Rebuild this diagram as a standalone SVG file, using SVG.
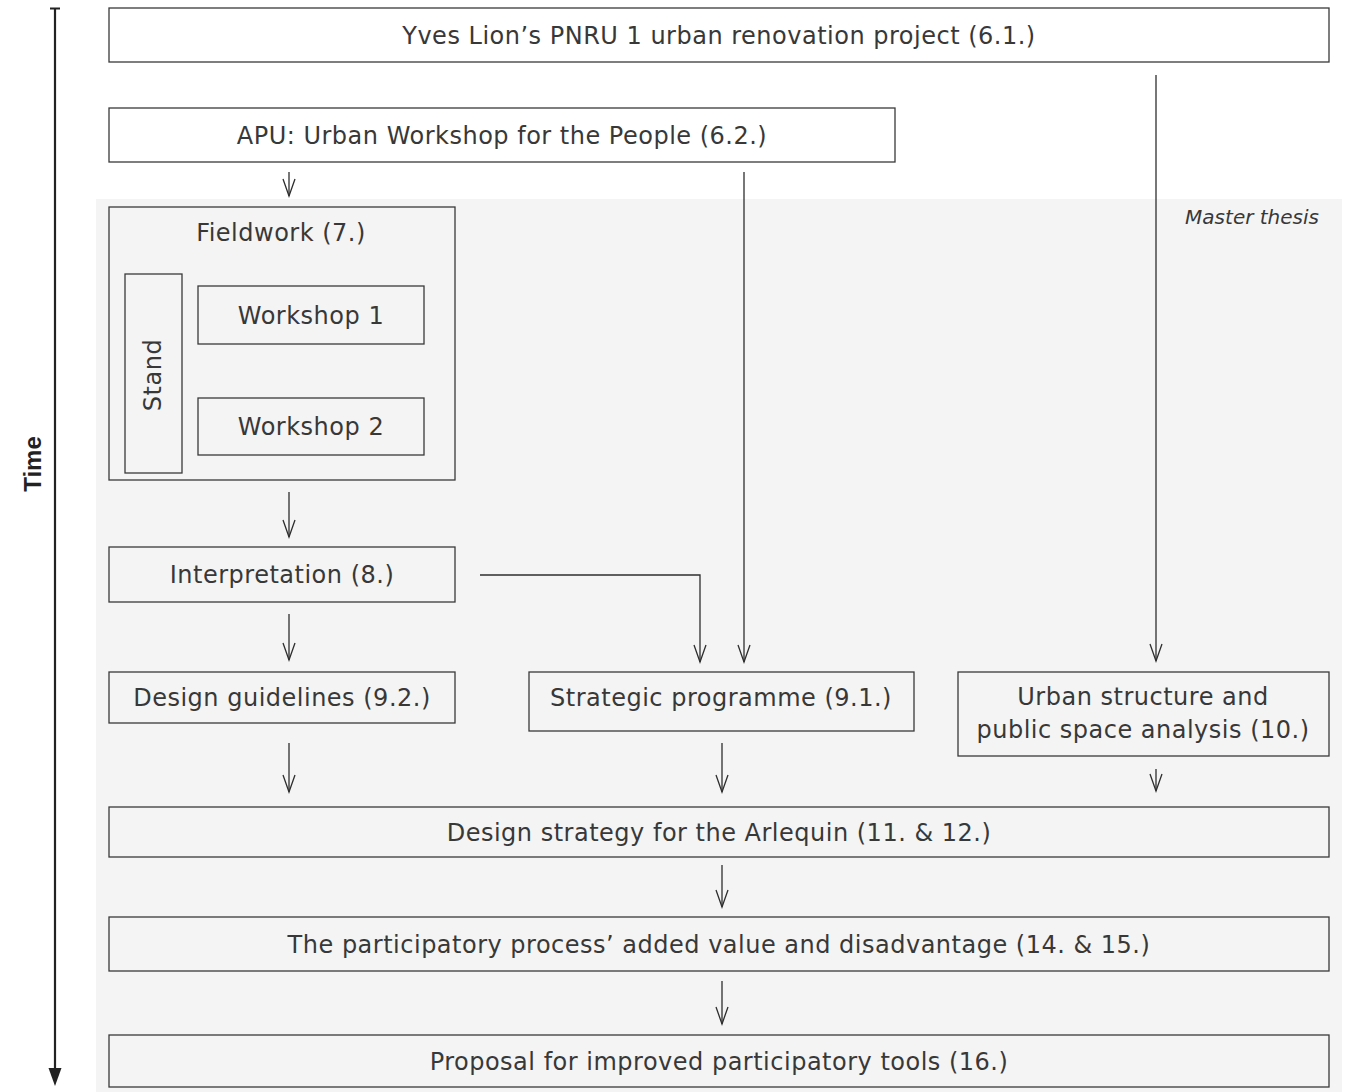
<svg xmlns="http://www.w3.org/2000/svg" width="1346" height="1092" viewBox="0 0 1346 1092">
<style>
.box{fill:#ffffff;stroke:#3a3a3a;stroke-width:1.3}
.gbox{fill:#f4f4f4;stroke:#3a3a3a;stroke-width:1.3}
.t{font-family:"DejaVu Sans","Liberation Sans",sans-serif;font-size:24px;fill:#383838;text-anchor:middle;letter-spacing:0.5px}
.conn{fill:none;stroke:#2e2e2e;stroke-width:1.3}
</style>
<defs>
<marker id="open" markerUnits="userSpaceOnUse" markerWidth="20" markerHeight="14" refX="0" refY="0" orient="auto" overflow="visible">
<path d="M-17,-6 L0,0 L-17,6" fill="none" stroke="#2e2e2e" stroke-width="1.3"/>
</marker>
</defs>
<rect x="96" y="199" width="1246" height="893" fill="#f4f4f4"/>
<text x="1319" y="224" font-family="DejaVu Sans, Liberation Sans, sans-serif" font-size="20" font-style="italic" fill="#383838" text-anchor="end">Master thesis</text>
<g id="time-axis">
<line x1="55" y1="8" x2="55" y2="1070" stroke="#222" stroke-width="2.2"/>
<line x1="50" y1="8.5" x2="60" y2="8.5" stroke="#222" stroke-width="2"/>
<path d="M48.5,1068 L61.5,1068 L55,1086 Z" fill="#222"/>
<text transform="translate(41,464) rotate(-90)" font-family="Liberation Sans, Arial, sans-serif" font-size="24" font-weight="bold" fill="#222" text-anchor="middle">Time</text>
</g>
<g id="n-yves"><rect class="box" x="109" y="8" width="1220" height="54"/><text class="t" x="719" y="44">Yves Lion’s PNRU 1 urban renovation project (6.1.)</text></g>
<g id="n-apu"><rect class="box" x="109" y="108" width="786" height="54"/><text class="t" x="502" y="144">APU: Urban Workshop for the People (6.2.)</text></g>
<g id="n-fieldwork"><rect class="gbox" x="109" y="207" width="346" height="273"/><text class="t" x="281" y="241">Fieldwork (7.)</text></g>
<g id="n-stand"><rect class="gbox" x="125" y="274" width="57" height="199"/><text class="t" transform="translate(161,375) rotate(-90)">Stand</text></g>
<g id="n-ws1"><rect class="gbox" x="198" y="286" width="226" height="58"/><text class="t" x="311" y="324">Workshop 1</text></g>
<g id="n-ws2"><rect class="gbox" x="198" y="398" width="226" height="57"/><text class="t" x="311" y="435">Workshop 2</text></g>
<g id="n-interp"><rect class="gbox" x="109" y="547" width="346" height="55"/><text class="t" x="282" y="583">Interpretation (8.)</text></g>
<g id="n-guide"><rect class="gbox" x="109" y="672" width="346" height="51"/><text class="t" x="282" y="706">Design guidelines (9.2.)</text></g>
<g id="n-strat"><rect class="gbox" x="529" y="672" width="385" height="59"/><text class="t" x="721" y="706">Strategic programme (9.1.)</text></g>
<g id="n-urban"><rect class="gbox" x="958" y="672" width="371" height="84"/><text class="t" x="1143" y="705">Urban structure and</text><text class="t" x="1143" y="738">public space analysis (10.)</text></g>
<g id="n-design"><rect class="gbox" x="109" y="807" width="1220" height="50"/><text class="t" x="719" y="841">Design strategy for the Arlequin (11. &amp; 12.)</text></g>
<g id="n-partic"><rect class="gbox" x="109" y="917" width="1220" height="54"/><text class="t" x="719" y="953">The participatory process’ added value and disadvantage (14. &amp; 15.)</text></g>
<g id="n-proposal"><rect class="gbox" x="109" y="1035" width="1220" height="52"/><text class="t" x="719" y="1070">Proposal for improved participatory tools (16.)</text></g>
<g id="connectors">
<path class="conn" d="M289,172 L289,196" marker-end="url(#open)"/>
<path class="conn" d="M744,172 L744,662" marker-end="url(#open)"/>
<path class="conn" d="M1156,75 L1156,661" marker-end="url(#open)"/>
<path class="conn" d="M480,575 L700,575 L700,662" marker-end="url(#open)"/>
<path class="conn" d="M289,492 L289,537" marker-end="url(#open)"/>
<path class="conn" d="M289,614 L289,660" marker-end="url(#open)"/>
<path class="conn" d="M289,743 L289,792" marker-end="url(#open)"/>
<path class="conn" d="M722,743 L722,792" marker-end="url(#open)"/>
<path class="conn" d="M1156,769 L1156,791" marker-end="url(#open)"/>
<path class="conn" d="M722,865 L722,907" marker-end="url(#open)"/>
<path class="conn" d="M722,981 L722,1024" marker-end="url(#open)"/>
</g>
</svg>
